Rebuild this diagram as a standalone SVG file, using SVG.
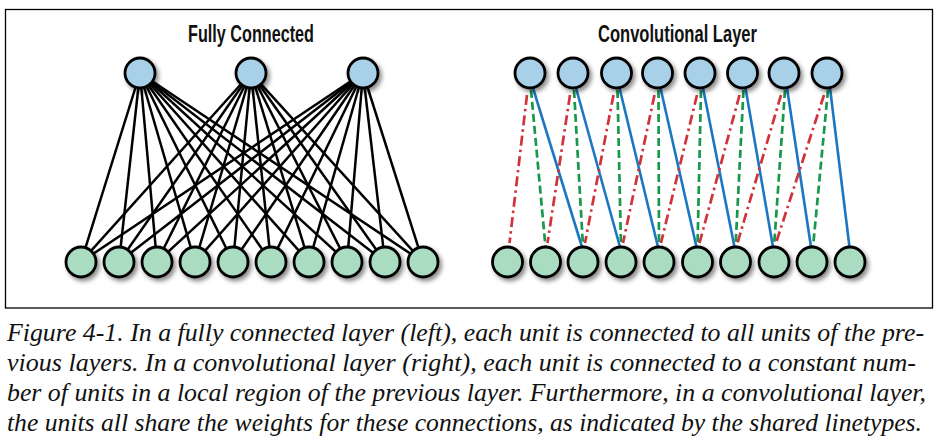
<svg xmlns="http://www.w3.org/2000/svg" width="940" height="446" viewBox="0 0 940 446">
<defs>
<filter id="sh" x="-50%" y="-50%" width="200%" height="200%">
<feDropShadow dx="2.5" dy="3" stdDeviation="2.2" flood-color="#000" flood-opacity="0.45"/>
</filter>
</defs>
<style>
.frame{fill:#fff;stroke:#000;stroke-width:1.3}
.title{font-family:"Liberation Sans",Arial,sans-serif;font-weight:bold;font-size:23px;fill:#111}
.cap{font-family:"Liberation Serif","Times New Roman",serif;font-style:italic;font-size:25px;fill:#111}
.top{fill:#a9d0e9;stroke:#000;stroke-width:2.8;filter:url(#sh)}
.bot{fill:#aadcc1;stroke:#000;stroke-width:2.8;filter:url(#sh)}
.fc line{stroke:#000;stroke-width:2.5}
.red{stroke:#d0333b;stroke-width:2.7;stroke-dasharray:10 4 2.5 4;fill:none}
.green{stroke:#17984a;stroke-width:2.7;stroke-dasharray:8 4;fill:none}
.blue{stroke:#1c77c3;stroke-width:2.6;fill:none}
</style>
<rect class="frame" x="5.5" y="9.5" width="927" height="298.5"/>
<text class="title" x="188" y="41.5" textLength="126" lengthAdjust="spacingAndGlyphs">Fully Connected</text>
<text class="title" x="598" y="41.5" textLength="159" lengthAdjust="spacingAndGlyphs">Convolutional Layer</text>

<g id="connectors">
<g class="fc">
<line x1="140" y1="73" x2="81" y2="262"/><line x1="140" y1="73" x2="119" y2="262"/><line x1="140" y1="73" x2="157" y2="262"/><line x1="140" y1="73" x2="195" y2="262"/><line x1="140" y1="73" x2="233" y2="262"/><line x1="140" y1="73" x2="271" y2="262"/><line x1="140" y1="73" x2="309" y2="262"/><line x1="140" y1="73" x2="347" y2="262"/><line x1="140" y1="73" x2="385" y2="262"/><line x1="140" y1="73" x2="423" y2="262"/>
<line x1="251" y1="73" x2="81" y2="262"/><line x1="251" y1="73" x2="119" y2="262"/><line x1="251" y1="73" x2="157" y2="262"/><line x1="251" y1="73" x2="195" y2="262"/><line x1="251" y1="73" x2="233" y2="262"/><line x1="251" y1="73" x2="271" y2="262"/><line x1="251" y1="73" x2="309" y2="262"/><line x1="251" y1="73" x2="347" y2="262"/><line x1="251" y1="73" x2="385" y2="262"/><line x1="251" y1="73" x2="423" y2="262"/>
<line x1="363" y1="73" x2="81" y2="262"/><line x1="363" y1="73" x2="119" y2="262"/><line x1="363" y1="73" x2="157" y2="262"/><line x1="363" y1="73" x2="195" y2="262"/><line x1="363" y1="73" x2="233" y2="262"/><line x1="363" y1="73" x2="271" y2="262"/><line x1="363" y1="73" x2="309" y2="262"/><line x1="363" y1="73" x2="347" y2="262"/><line x1="363" y1="73" x2="385" y2="262"/><line x1="363" y1="73" x2="423" y2="262"/>
</g>
<g class="conv">
<line class="red" x1="527" y1="95" x2="509.5" y2="243"/>
<line class="green" x1="531" y1="90" x2="545.5" y2="247"/>
<line class="blue" x1="533" y1="88" x2="582" y2="247"/>
<line class="red" x1="570" y1="95" x2="547.5" y2="243"/>
<line class="green" x1="574" y1="90" x2="583" y2="247"/>
<line class="blue" x1="576" y1="88" x2="620" y2="247"/>
<line class="red" x1="613.5" y1="95" x2="585" y2="243"/>
<line class="green" x1="617.5" y1="90" x2="621" y2="247"/>
<line class="blue" x1="619.5" y1="88" x2="658" y2="247"/>
<line class="red" x1="654.5" y1="95" x2="623" y2="243"/>
<line class="green" x1="658.5" y1="90" x2="659" y2="247"/>
<line class="blue" x1="660.5" y1="88" x2="696.5" y2="247"/>
<line class="red" x1="697" y1="95" x2="661" y2="243"/>
<line class="green" x1="701" y1="90" x2="697.5" y2="247"/>
<line class="blue" x1="703" y1="88" x2="734.5" y2="247"/>
<line class="red" x1="739.5" y1="95" x2="699.5" y2="243"/>
<line class="green" x1="743.5" y1="90" x2="735.5" y2="247"/>
<line class="blue" x1="745.5" y1="88" x2="773" y2="247"/>
<line class="red" x1="781" y1="95" x2="737.5" y2="243"/>
<line class="green" x1="785" y1="90" x2="774" y2="247"/>
<line class="blue" x1="787" y1="88" x2="811" y2="247"/>
<line class="red" x1="824" y1="95" x2="776" y2="243"/>
<line class="green" x1="828" y1="90" x2="813" y2="247"/>
<line class="blue" x1="830" y1="88" x2="849.5" y2="247"/>
</g>
</g>

<g id="fc-top-1"><circle class="top" cx="140" cy="73" r="15"/></g>
<g id="fc-top-2"><circle class="top" cx="251" cy="73" r="15"/></g>
<g id="fc-top-3"><circle class="top" cx="363" cy="73" r="15"/></g>
<g id="fc-bot-1"><circle class="bot" cx="81" cy="262" r="15"/></g>
<g id="fc-bot-2"><circle class="bot" cx="119" cy="262" r="15"/></g>
<g id="fc-bot-3"><circle class="bot" cx="157" cy="262" r="15"/></g>
<g id="fc-bot-4"><circle class="bot" cx="195" cy="262" r="15"/></g>
<g id="fc-bot-5"><circle class="bot" cx="233" cy="262" r="15"/></g>
<g id="fc-bot-6"><circle class="bot" cx="271" cy="262" r="15"/></g>
<g id="fc-bot-7"><circle class="bot" cx="309" cy="262" r="15"/></g>
<g id="fc-bot-8"><circle class="bot" cx="347" cy="262" r="15"/></g>
<g id="fc-bot-9"><circle class="bot" cx="385" cy="262" r="15"/></g>
<g id="fc-bot-10"><circle class="bot" cx="423" cy="262" r="15"/></g>

<g id="cv-top-1"><circle class="top" cx="530" cy="73" r="15"/></g>
<g id="cv-top-2"><circle class="top" cx="573" cy="73" r="15"/></g>
<g id="cv-top-3"><circle class="top" cx="616.5" cy="73" r="15"/></g>
<g id="cv-top-4"><circle class="top" cx="657.5" cy="73" r="15"/></g>
<g id="cv-top-5"><circle class="top" cx="700" cy="73" r="15"/></g>
<g id="cv-top-6"><circle class="top" cx="742.5" cy="73" r="15"/></g>
<g id="cv-top-7"><circle class="top" cx="784" cy="73" r="15"/></g>
<g id="cv-top-8"><circle class="top" cx="827" cy="73" r="15"/></g>
<g id="cv-bot-1"><circle class="bot" cx="507.5" cy="262" r="15"/></g>
<g id="cv-bot-2"><circle class="bot" cx="545.5" cy="262" r="15"/></g>
<g id="cv-bot-3"><circle class="bot" cx="583" cy="262" r="15"/></g>
<g id="cv-bot-4"><circle class="bot" cx="621" cy="262" r="15"/></g>
<g id="cv-bot-5"><circle class="bot" cx="659" cy="262" r="15"/></g>
<g id="cv-bot-6"><circle class="bot" cx="697.5" cy="262" r="15"/></g>
<g id="cv-bot-7"><circle class="bot" cx="735.5" cy="262" r="15"/></g>
<g id="cv-bot-8"><circle class="bot" cx="774" cy="262" r="15"/></g>
<g id="cv-bot-9"><circle class="bot" cx="812" cy="262" r="15"/></g>
<g id="cv-bot-10"><circle class="bot" cx="850" cy="262" r="15"/></g>

<text class="cap" x="7" y="341" textLength="917" lengthAdjust="spacingAndGlyphs">Figure 4-1. In a fully connected layer (left), each unit is connected to all units of the pre-</text>
<text class="cap" x="7" y="371" textLength="909" lengthAdjust="spacingAndGlyphs">vious layers. In a convolutional layer (right), each unit is connected to a constant num-</text>
<text class="cap" x="7" y="401" textLength="919" lengthAdjust="spacingAndGlyphs">ber of units in a local region of the previous layer. Furthermore, in a convolutional layer,</text>
<text class="cap" x="7" y="431" textLength="915" lengthAdjust="spacingAndGlyphs">the units all share the weights for these connections, as indicated by the shared linetypes.</text>
</svg>
